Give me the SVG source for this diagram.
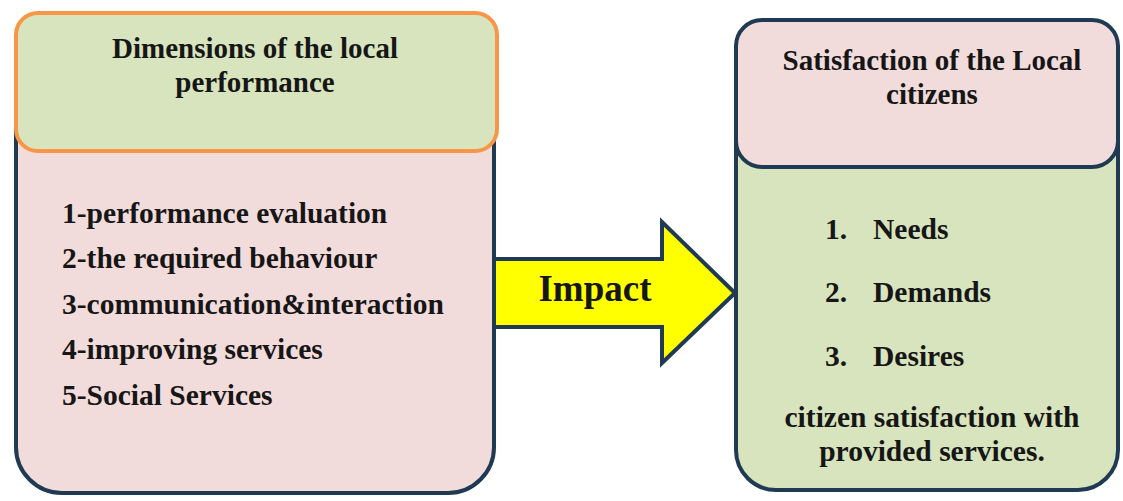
<svg xmlns="http://www.w3.org/2000/svg" width="1123" height="501" viewBox="0 0 1123 501">
<style>
text{font-family:'Liberation Serif','Noto Serif','DejaVu Serif',serif;font-weight:700;fill:#161616}
.h{font-size:29px;text-anchor:middle}
.i{font-size:29.5px}
.navy{stroke:#1F3A52;stroke-width:4}
</style>
<rect width="1123" height="501" fill="#ffffff"/>
<g id="left-node">
<rect class="navy" x="16" y="24" width="478" height="469" rx="46" fill="#F2DCDB"/>
<rect x="16" y="13" width="481" height="138" rx="22" fill="#D7E4BD" stroke="#F79646" stroke-width="4"/>
<text class="h" x="255" y="58">Dimensions of the local</text>
<text class="h" x="255" y="92">performance</text>
<text class="i" x="62" y="223">1-performance evaluation</text>
<text class="i" x="62" y="268">2-the required behaviour</text>
<text class="i" x="62" y="314">3-communication&amp;interaction</text>
<text class="i" x="62" y="359">4-improving services</text>
<text class="i" x="62" y="405">5-Social Services</text>
</g>
<g id="right-node">
<rect class="navy" x="736" y="40" width="382" height="450" rx="40" fill="#D7E4BD"/>
<rect class="navy" x="736" y="20" width="382" height="147" rx="26" fill="#F2DCDB"/>
<text class="h" x="932" y="70">Satisfaction of the Local</text>
<text class="h" x="932" y="104">citizens</text>
<text class="i" x="825" y="239">1.</text><text class="i" x="873" y="239">Needs</text>
<text class="i" x="825" y="302">2.</text><text class="i" x="873" y="302">Demands</text>
<text class="i" x="825" y="366">3.</text><text class="i" x="873" y="366">Desires</text>
<text class="i" x="932" y="427" text-anchor="middle">citizen satisfaction with</text>
<text class="i" x="932" y="461" text-anchor="middle">provided services.</text>
</g>
<g id="connectors">
<polygon class="navy" points="494,259 662,259 662,222 735,293 662,363 662,327 494,327" fill="#FFFF00" stroke-linejoin="miter"/>
<text x="595" y="301" font-size="37" text-anchor="middle">Impact</text>
</g>
</svg>
